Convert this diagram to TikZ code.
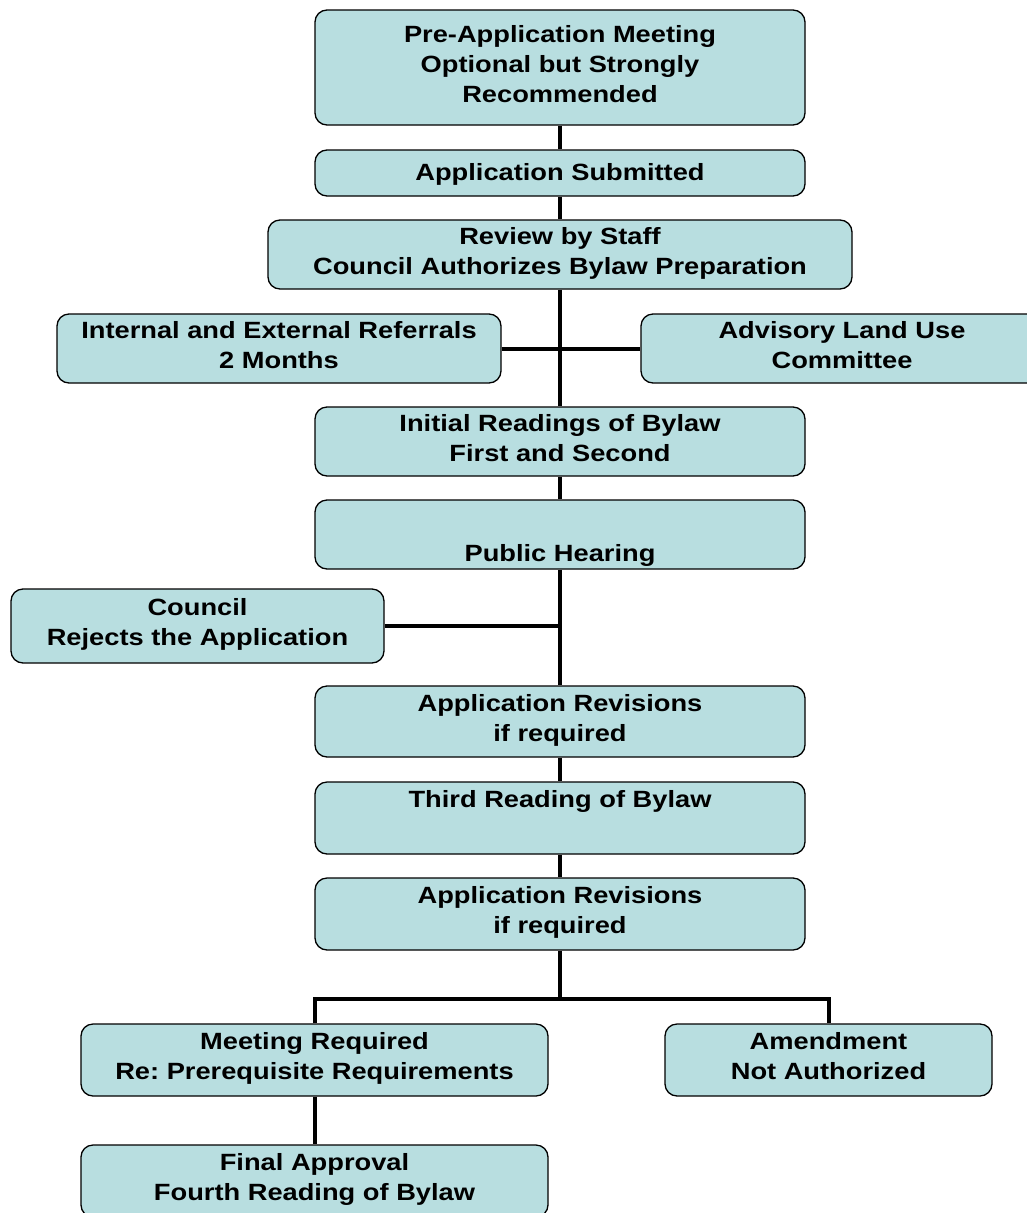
\documentclass[tikz,border=0pt]{standalone}
\usepackage{fontspec}
\setmainfont{Liberation Sans}[FakeStretch=1.16]
\definecolor{boxfill}{RGB}{184,222,224}
\newcommand\linestrut{\rule[-7.5pt]{0pt}{30pt}}
\tikzset{
  stepbox/.style={draw=black, line width=1.3pt, fill=boxfill, rounded corners=12pt,
    align=center, inner sep=0pt, font=\fontsize{23.5}{30}\selectfont\bfseries\frenchspacing,
    execute at begin node=\linestrut, execute at end node=\linestrut},
  link/.style={line width=4pt, black}
}
\begin{document}
\begin{tikzpicture}[x=1pt,y=-1pt]
\useasboundingbox (0,0) rectangle (1026,1213);
% boxes
\node[stepbox, minimum width=490pt, minimum height=115pt] (n1) at (560,67.5)
  {Pre-Application Meeting\\Optional but Strongly\\Recommended};
\node[stepbox, minimum width=490pt, minimum height=46pt] (n2) at (560,173)
  {Application Submitted};
\node[stepbox, minimum width=584pt, minimum height=69pt] (n3) at (560,254.5)
  {Review by Staff\\Council Authorizes Bylaw Preparation};
\node[stepbox, minimum width=444pt, minimum height=69pt] (n4) at (279,348.5)
  {Internal and External Referrals\\2 Months};
\node[stepbox, minimum width=402pt, minimum height=69pt] (n5) at (842,348.5)
  {Advisory Land Use\\Committee};
\node[stepbox, minimum width=490pt, minimum height=69pt] (n6) at (560,441.5)
  {Initial Readings of Bylaw\\First and Second};
\node[stepbox, minimum width=490pt, minimum height=69pt] (n7) at (560,534.5)
  {\rule{0pt}{31pt}\\Public Hearing};
\node[stepbox, minimum width=373pt, minimum height=74pt] (n8) at (197.5,626)
  {Council\\Rejects the Application};
\node[stepbox, minimum width=490pt, minimum height=71pt] (n9) at (560,721.5)
  {Application Revisions\\if required};
\node[stepbox, minimum width=490pt, minimum height=72pt] (n10) at (560,818)
  {Third Reading of Bylaw\\};
\node[stepbox, minimum width=490pt, minimum height=72pt] (n11) at (560,914)
  {Application Revisions\\if required};
\node[stepbox, minimum width=467pt, minimum height=72pt] (n12) at (314.5,1060)
  {Meeting Required\\Re: Prerequisite Requirements};
\node[stepbox, minimum width=327pt, minimum height=72pt] (n13) at (828.5,1060)
  {Amendment\\Not Authorized};
\node[stepbox, minimum width=467pt, minimum height=72pt] (n14) at (314.5,1181)
  {Final Approval\\Fourth Reading of Bylaw};
% connectors
\draw[link] (n1.south) -- (n2.north);
\draw[link] (n2.south) -- (n3.north);
\draw[link] (n3.south) -- (n6.north);
\draw[link] (n4.east) -- (n5.west);
\draw[link] (n6.south) -- (n7.north);
\draw[link] (n7.south) -- (n9.north);
\draw[link] (n8.east) -- (n8.east -| n7.south);
\draw[link] (n9.south) -- (n10.north);
\draw[link] (n10.south) -- (n11.north);
\draw[link] (n11.south) -- ++(0,48) coordinate (split);
\draw[link] (n12.north) |- (split) -| (n13.north);
\draw[link] (n12.south) -- (n14.north);
\end{tikzpicture}
\end{document}
